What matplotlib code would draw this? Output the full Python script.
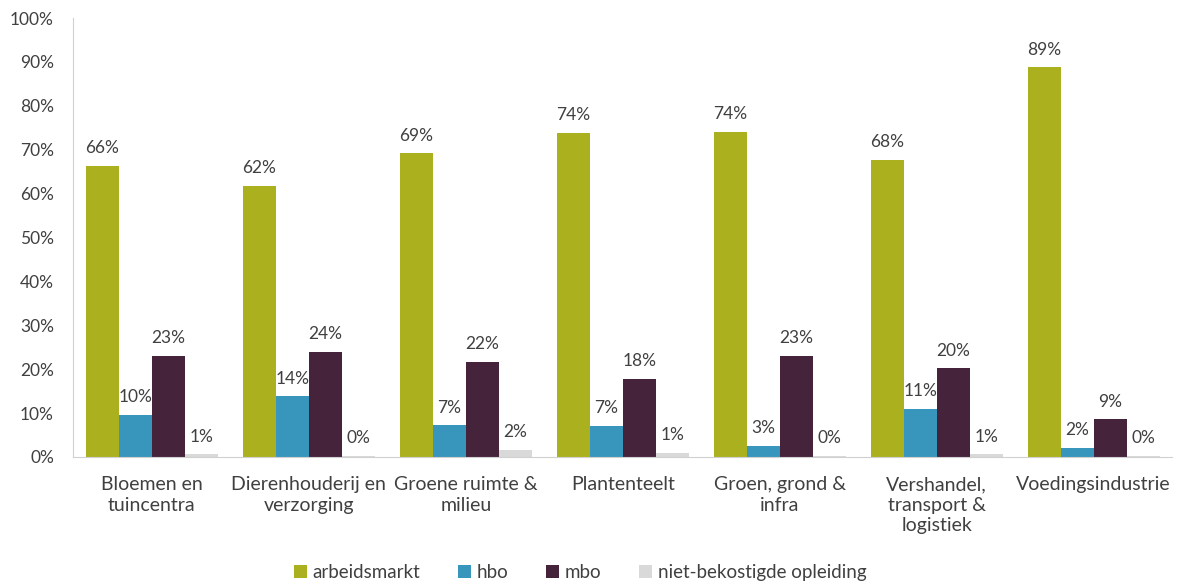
import matplotlib
matplotlib.use("Agg")
import matplotlib.pyplot as plt
import numpy as np

plt.rcParams['font.family'] = ['Lato', 'DejaVu Sans']

categories = ["Bloemen en\ntuincentra", "Dierenhouderij en\nverzorging", "Groene ruimte &\nmilieu",
              "Plantenteelt", "Groen, grond &\ninfra", "Vershandel,\ntransport &\nlogistiek",
              "Voedingsindustrie"]
series = ["arbeidsmarkt", "hbo", "mbo", "niet-bekostigde opleiding"]
arbeidsmarkt = [66.4, 61.8, 69.2, 73.8, 74.0, 67.7, 88.8]
hbo = [9.6, 13.8, 7.2, 7.1, 2.6, 11.0, 2.1]
mbo = [23.1, 24.0, 21.6, 17.8, 23.1, 20.2, 8.6]
niet = [0.6, 0.2, 1.6, 1.0, 0.2, 0.6, 0.2]
colors = ["#abb11e", "#3896bc", "#45233a", "#d9d9d9"]

data = [arbeidsmarkt, hbo, mbo, niet]
x = np.arange(len(categories))
w = 0.21
txt = "#404040"

fig = plt.figure(figsize=(11.84, 5.84), dpi=100)
ax = fig.add_axes([0.062, 0.2175, 0.928, 0.7515])

for i, vals in enumerate(data):
    pos = x + (i - 1.5) * w
    ax.bar(pos, vals, w, color=colors[i], label=series[i])
    for p, v in zip(pos, vals):
        ax.annotate("{:.0f}%".format(v), (p, v), xytext=(0, 7), textcoords="offset points",
                    ha="center", va="bottom", fontsize=12.5, color=txt)

ax.set_xlim(-0.5, len(categories) - 0.5)
ax.set_ylim(0, 100)
ax.set_yticks(np.arange(0, 101, 10))
ax.set_yticklabels(["{}%".format(t) for t in range(0, 101, 10)], fontsize=12.5, color=txt)
ax.set_xticks(x)
ax.set_xticklabels(categories, fontsize=14, color=txt, linespacing=1.25)
ax.tick_params(axis="both", length=0)
ax.tick_params(axis="x", pad=14)
ax.tick_params(axis="y", pad=14)
for s in ["top", "right"]:
    ax.spines[s].set_visible(False)
for s in ["left", "bottom"]:
    ax.spines[s].set_color("#d0d0d0")

fig.legend(loc="center", bbox_to_anchor=(0.49, 0.02), ncol=4, frameon=False,
           fontsize=13.5, handlelength=0.7, handleheight=0.7, handletextpad=0.3,
           columnspacing=2.0, labelcolor=txt)

fig.savefig("out.png", dpi=100)
